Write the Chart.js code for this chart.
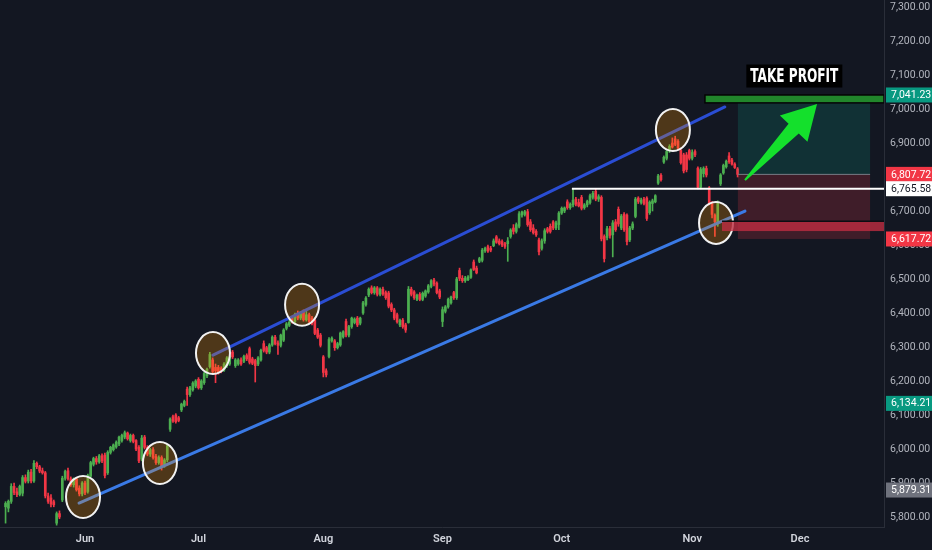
<!DOCTYPE html>
<html>
<head>
<meta charset="utf-8">
<script src="https://cdn.jsdelivr.net/npm/chart.js@4.4.1/dist/chart.umd.min.js"></script>
<style>
  html, body { margin: 0; padding: 0; background: #131722; }
  #wrap { width: 932px; height: 550px; }
</style>
</head>
<body>
<div id="wrap"><canvas id="myChart" width="932" height="550"></canvas></div>
<script>
// 4h candles, two per session, index 0 = first bar on the left
const open = [
  5830,5826,5846,5890,5874,5866,5870,5916,5906,5932, 5906,5958,5948,5936,5930,5862,5856,5845,5782,5810,
  5850,5914,5936,5912,5895,5912,5885,5868,5900,5875, 5920,5955,5972,5962,5980,5982,5930,5990,5998,6006,
  6015,6025,6035,6047,6025,6040,6025,6005,5970,6035, 6005,5985,5998,5978,5960,5975,5952,5968,6058,6095,
  6100,6092,6115,6128,6176,6160,6174,6185,6205,6180, 6195,6215,6242,6262,6240,6240,6238,6232,6245,6250,
  6285,6245,6250,6262,6258,6275,6295,6265,6260,6250, 6262,6310,6298,6285,6306,6329,6312,6305,6320,6355,
  6364,6385,6375,6400,6385,6405,6380,6395,6385,6379, 6350,6335,6271,6230,6272,6318,6318,6298,6306,6330,
  6375,6335,6360,6372,6385,6370,6400,6425,6453,6474, 6460,6474,6455,6470,6460,6459,6425,6409,6395,6365,
  6379,6365,6372,6470,6462,6440,6455,6440,6450,6462, 6478,6497,6488,6465,6375,6405,6418,6430,6460,6445,
  6525,6502,6495,6498,6505,6550,6532,6552,6555,6583, 6595,6590,6598,6624,6612,6610,6604,6604,6625,6650,
  6640,6655,6688,6690,6698,6668,6650,6640,6615,6590, 6612,6648,6655,6668,6650,6660,6694,6700,6727,6710,
  6718,6735,6725,6740,6710,6718,6725,6740,6758,6735, 6740,6625,6622,6648,6630,6668,6705,6650,6690,6688,
  6615,6650,6684,6738,6725,6735,6738,6695,6722,6727, 6782,6805,6844,6855,6878,6900,6912,6905,6878,6865,
  6865,6878,6855,6875,6826,6770,6810,6825,6768,6722, 6688,6662,6780,6812,6830,6862,6850,6838,6824
];
const high = [
  5845,5850,5898,5900,5885,5894,5922,5924,5938,5940, 5966,5962,5952,5944,5934,5870,5866,5850,5815,5818,
  5920,5938,5944,5918,5915,5916,5892,5904,5906,5926, 5964,5976,5978,5984,5986,5988,5995,6008,6015,6024,
  6038,6044,6053,6050,6044,6044,6028,6010,6040,6040, 6010,6002,6004,5984,5980,5980,5972,6014,6092,6100,
  6104,6096,6135,6144,6182,6184,6198,6204,6210,6204, 6226,6238,6284,6268,6250,6246,6242,6254,6272,6275,
  6290,6266,6266,6268,6276,6280,6300,6270,6264,6272, 6294,6318,6302,6310,6333,6334,6318,6338,6354,6372,
  6378,6390,6400,6406,6404,6409,6409,6400,6390,6384, 6355,6340,6275,6236,6328,6330,6322,6314,6344,6348,
  6382,6364,6388,6386,6390,6388,6434,6448,6474,6480, 6478,6478,6474,6476,6465,6464,6430,6414,6400,6382,
  6384,6370,6478,6476,6466,6456,6460,6462,6468,6484, 6498,6502,6492,6470,6418,6422,6444,6450,6464,6505,
  6532,6510,6508,6510,6530,6556,6538,6564,6590,6594, 6600,6596,6618,6628,6618,6615,6608,6622,6648,6660,
  6665,6698,6700,6702,6705,6675,6660,6645,6620,6618, 6648,6652,6662,6672,6670,6698,6712,6712,6733,6724,
  6765,6740,6735,6746,6722,6732,6750,6758,6766,6748, 6745,6630,6655,6655,6672,6675,6712,6690,6695,6692,
  6655,6668,6740,6742,6738,6740,6742,6730,6735,6748, 6808,6810,6862,6880,6895,6915,6920,6910,6885,6870,
  6872,6882,6880,6880,6830,6828,6830,6832,6772,6728, 6692,6730,6810,6838,6850,6872,6855,6842,6828
];
const low = [
  5782,5815,5840,5866,5860,5862,5862,5900,5900,5900, 5902,5942,5930,5926,5856,5840,5830,5830,5776,5795,
  5845,5908,5908,5890,5888,5876,5862,5862,5866,5870, 5916,5950,5955,5958,5960,5915,5925,5985,5994,6002,
  6010,6020,6030,6026,6020,6018,5995,5960,5965,6000, 5980,5978,5970,5955,5955,5938,5946,5962,6052,6078,
  6076,6080,6110,6124,6128,6155,6170,6180,6176,6175, 6190,6210,6238,6222,6195,6220,6224,6228,6240,6246,
  6266,6240,6246,6246,6254,6260,6250,6248,6197,6245, 6258,6285,6280,6280,6302,6306,6278,6300,6316,6350,
  6360,6370,6370,6380,6380,6376,6376,6370,6365,6336, 6325,6300,6212,6212,6268,6314,6290,6294,6302,6326,
  6330,6330,6355,6368,6360,6365,6396,6420,6448,6456, 6455,6450,6450,6452,6440,6415,6404,6380,6370,6360,
  6355,6343,6370,6450,6440,6436,6436,6436,6446,6458, 6474,6480,6456,6442,6360,6400,6414,6426,6440,6440,
  6495,6490,6490,6495,6502,6525,6515,6548,6550,6578, 6578,6580,6595,6605,6600,6595,6590,6552,6620,6632,
  6635,6650,6682,6685,6655,6640,6632,6625,6571,6585, 6605,6635,6635,6645,6645,6645,6690,6695,6705,6705,
  6712,6715,6712,6703,6705,6712,6720,6735,6730,6728, 6612,6550,6615,6620,6565,6640,6655,6645,6640,6600,
  6610,6645,6680,6722,6720,6718,6672,6690,6700,6724, 6778,6788,6840,6850,6872,6885,6892,6880,6838,6812,
  6815,6850,6850,6860,6765,6765,6800,6800,6718,6680, 6625,6655,6775,6808,6826,6840,6835,6825,6800
];
const close = [
  5840,5846,5890,5872,5866,5890,5916,5905,5932,5906, 5958,5948,5935,5930,5862,5846,5838,5836,5810,5800,
  5914,5934,5912,5895,5912,5880,5868,5900,5872,5922, 5960,5972,5962,5980,5965,5922,5990,6005,6012,6020,
  6035,6040,6048,6030,6040,6022,6000,5965,6032,6005, 5985,5998,5975,5960,5975,5950,5968,6010,6088,6082,
  6080,6084,6132,6140,6160,6180,6194,6200,6180,6200, 6222,6235,6278,6228,6230,6225,6228,6250,6268,6271,
  6271,6262,6262,6250,6272,6265,6255,6252,6245,6268, 6290,6290,6285,6306,6329,6310,6305,6335,6350,6368,
  6373,6375,6395,6385,6400,6380,6395,6375,6370,6340, 6329,6305,6225,6218,6322,6326,6298,6310,6341,6345,
  6335,6360,6385,6382,6365,6385,6430,6444,6470,6460, 6474,6455,6470,6456,6445,6420,6409,6385,6374,6378,
  6360,6350,6470,6455,6445,6452,6440,6458,6465,6480, 6495,6485,6460,6447,6410,6418,6440,6447,6445,6500,
  6502,6495,6503,6506,6527,6528,6518,6560,6585,6590, 6582,6585,6612,6608,6604,6600,6596,6612,6644,6640,
  6660,6692,6697,6698,6660,6645,6636,6630,6580,6612, 6642,6640,6640,6650,6665,6694,6708,6709,6710,6720,
  6732,6720,6715,6708,6718,6728,6745,6752,6735,6742, 6618,6560,6648,6628,6665,6645,6662,6685,6645,6610,
  6650,6662,6735,6728,6732,6722,6678,6726,6730,6745, 6803,6792,6858,6875,6890,6888,6896,6885,6842,6818,
  6822,6855,6872,6865,6770,6822,6825,6806,6722,6690, 6668,6725,6806,6834,6846,6845,6838,6828,6807.72
];

// axis ticks
const priceTicks = [5800,5900,6000,6100,6200,6300,6400,6500,6600,6700,6800,6900,7000,7100,7200,7300];
const monthTicks = [28, 68, 112, 154, 196, 242, 280];
const monthLabels = ['Jun','Jul','Aug','Sep','Oct','Nov','Dec'];

// drawings, in bar index / price units
const upperChannel = [[73.1, 6276], [253.5, 7006]];
const lowerChannel = [[25.9, 5841], [260.6, 6700]];
const touchCircles = [[27.3, 5859], [54.4, 5959], [73.1, 6282], [104.5, 6424], [235.2, 6938], [250.4, 6665]];
const breakoutLevel = 6765.58;
const entry = 6807.72, target = 7041.23, stop = 6617.72;
const tagValues = [7041.23, 6807.72, 6765.58, 6617.72, 6134.21, 5879.31];
const tagColors = ['#089981', '#f23645', '#ffffff', '#f23645', '#089981', '#6f727d'];

const UP = '#4caf50', DOWN = '#f23645';
const barColors = close.map((c, i) => c >= open[i] ? UP : DOWN);

const fmt = v => v.toLocaleString('en-US', {minimumFractionDigits: 2, maximumFractionDigits: 2});

const overlay = {
  id: 'overlay',
  beforeDraw(chart) {
    const c = chart.ctx;
    c.save();
    c.fillStyle = '#131722';
    c.fillRect(0, 0, chart.width, chart.height);
    c.restore();
  },
  afterDatasetsDraw(chart) {
    const c = chart.ctx, a = chart.chartArea;
    const X = v => chart.scales.x.getPixelForValue(v);
    const Y = v => chart.scales.y.getPixelForValue(v);
    c.save();
    c.beginPath();
    c.rect(a.left, a.top, a.right - a.left, a.bottom - a.top);
    c.clip();

    // long position box
    const bx0 = X(258.1), bx1 = X(304.7);
    c.fillStyle = 'rgba(8,153,129,0.2)';
    c.fillRect(bx0, Y(target), bx1 - bx0, Y(entry) - Y(target));
    c.fillStyle = 'rgba(242,54,69,0.2)';
    c.fillRect(bx0, Y(entry), bx1 - bx0, Y(stop) - Y(entry));
    c.strokeStyle = '#787b86';
    c.lineWidth = 1;
    c.beginPath(); c.moveTo(bx0, Y(entry)); c.lineTo(bx1, Y(entry)); c.stroke();

    // channel
    c.lineCap = 'round';
    c.lineWidth = 3;
    c.strokeStyle = '#2a4dd3';
    c.beginPath(); c.moveTo(X(upperChannel[0][0]), Y(upperChannel[0][1])); c.lineTo(X(upperChannel[1][0]), Y(upperChannel[1][1])); c.stroke();
    c.strokeStyle = '#3a7ae6';
    c.beginPath(); c.moveTo(X(lowerChannel[0][0]), Y(lowerChannel[0][1])); c.lineTo(X(lowerChannel[1][0]), Y(lowerChannel[1][1])); c.stroke();

    // breakout level
    c.lineCap = 'butt';
    c.strokeStyle = '#ffffff';
    c.lineWidth = 2;
    c.beginPath(); c.moveTo(X(199.6), Y(breakoutLevel)); c.lineTo(a.right, Y(breakoutLevel)); c.stroke();

    // touch circles
    touchCircles.forEach(([i, p]) => {
      c.beginPath();
      c.ellipse(X(i), Y(p), 17, 21, 0, 0, Math.PI * 2);
      c.fillStyle = 'rgba(255,152,0,0.25)';
      c.fill();
      c.lineWidth = 2;
      c.strokeStyle = '#f2f2f2';
      c.stroke();
    });

    // stop band
    const sx = X(252.5);
    c.fillStyle = 'rgba(190,45,65,0.8)';
    c.fillRect(sx, Y(6670), a.right - sx, Y(6641) - Y(6670));
    c.strokeStyle = '#0b0d12';
    c.lineWidth = 1.5;
    c.beginPath(); c.moveTo(sx, Y(6670)); c.lineTo(a.right, Y(6670)); c.stroke();

    // take profit bar
    const tx = X(246.5);
    c.fillStyle = '#21862b';
    c.fillRect(tx, Y(target), a.right - tx, Y(7018) - Y(target));
    c.strokeStyle = '#050505';
    c.strokeRect(tx, Y(target), a.right - tx, Y(7018) - Y(target));

    // arrow
    const ax = X(260.6), ay = Y(6791), hx = X(286.0), hy = Y(7015);
    const len = Math.hypot(hx - ax, hy - ay);
    const ux = (hx - ax) / len, uy = (hy - ay) / len, nx = -uy, ny = ux;
    const baseX = hx - ux * 34, baseY = hy - uy * 34;
    c.fillStyle = '#14e02c';
    c.beginPath();
    c.moveTo(ax + nx * 1, ay + ny * 1);
    c.lineTo(baseX + nx * 7, baseY + ny * 7);
    c.lineTo(baseX + nx * 19, baseY + ny * 19);
    c.lineTo(hx, hy);
    c.lineTo(baseX - nx * 19, baseY - ny * 19);
    c.lineTo(baseX - nx * 7, baseY - ny * 7);
    c.lineTo(ax - nx * 1, ay - ny * 1);
    c.closePath();
    c.fill();

    // label
    const lx = X(278.0), ly = Y(7097);
    c.fillStyle = '#000000';
    c.fillRect(lx - 48, ly - 11.5, 96, 23);
    c.font = 'bold 19px "DejaVu Sans Condensed", "Liberation Sans Narrow", sans-serif';
    c.fillStyle = '#ffffff';
    c.textAlign = 'center';
    c.textBaseline = 'middle';
    const w = c.measureText('TAKE PROFIT').width;
    c.translate(lx, ly + 1);
    c.scale(Math.min(1, 88 / w), 1);
    c.fillText('TAKE PROFIT', 0, 0);
    c.restore();
  },
  afterDraw(chart) {
    const c = chart.ctx, a = chart.chartArea;
    const Y = v => chart.scales.y.getPixelForValue(v);
    c.save();
    c.font = '10.5px Roboto, "Liberation Sans", sans-serif';
    c.textBaseline = 'middle';
    c.textAlign = 'left';
    tagValues.forEach((v, i) => {
      const y = Y(v);
      c.fillStyle = tagColors[i];
      c.fillRect(a.right + 2, y - 7.5, chart.width - a.right - 2, 15);
      c.fillStyle = tagColors[i] === '#ffffff' ? '#131722' : '#ffffff';
      c.fillText(fmt(v), a.right + 7, y + 0.5);
    });
    c.restore();
  }
};

const ctx = document.getElementById('myChart');
const myChart = new Chart(ctx, {
  type: 'bar',
  data: {
    datasets: [
      {
        label: 'wick',
        data: low.map((l, i) => ({x: i, y: [l, high[i]]})),
        backgroundColor: barColors,
        barThickness: 1,
        grouped: false,
        order: 2
      },
      {
        label: 'body',
        data: open.map((o, i) => ({x: i, y: [o, close[i]]})),
        backgroundColor: barColors,
        barThickness: 2,
        minBarLength: 1,
        grouped: false,
        order: 1
      }
    ]
  },
  options: {
    responsive: false,
    animation: false,
    layout: { padding: 0 },
    plugins: {
      legend: { display: false },
      tooltip: { enabled: false }
    },
    scales: {
      x: {
        type: 'linear',
        min: -1.96,
        max: 309.6,
        offset: false,
        grid: { display: false, drawTicks: false },
        border: { display: true, color: '#2a2e39' },
        afterBuildTicks: s => { s.ticks = monthTicks.map(v => ({value: v})); },
        afterFit: s => { s.height = 23; s.paddingLeft = 0; s.paddingRight = 0; },
        ticks: {
          autoSkip: false,
          maxRotation: 0,
          padding: 6,
          color: '#d1d4dc',
          font: { family: 'Roboto, "Liberation Sans", sans-serif', size: 11, weight: '600' },
          callback: v => { const k = monthTicks.indexOf(v); return k >= 0 ? monthLabels[k] : ''; }
        }
      },
      y: {
        position: 'right',
        min: 5770.6,
        max: 7320.6,
        grid: { display: false, drawTicks: false },
        border: { display: true, color: '#2a2e39' },
        afterBuildTicks: s => { s.ticks = priceTicks.map(v => ({value: v})); },
        afterFit: s => { s.width = 48; s.paddingTop = 0; s.paddingBottom = 0; },
        ticks: {
          padding: 6,
          color: '#b2b5be',
          font: { family: 'Roboto, "Liberation Sans", sans-serif', size: 10.5 },
          callback: v => fmt(v)
        }
      }
    }
  },
  plugins: [overlay]
});
</script>
</body>
</html>
